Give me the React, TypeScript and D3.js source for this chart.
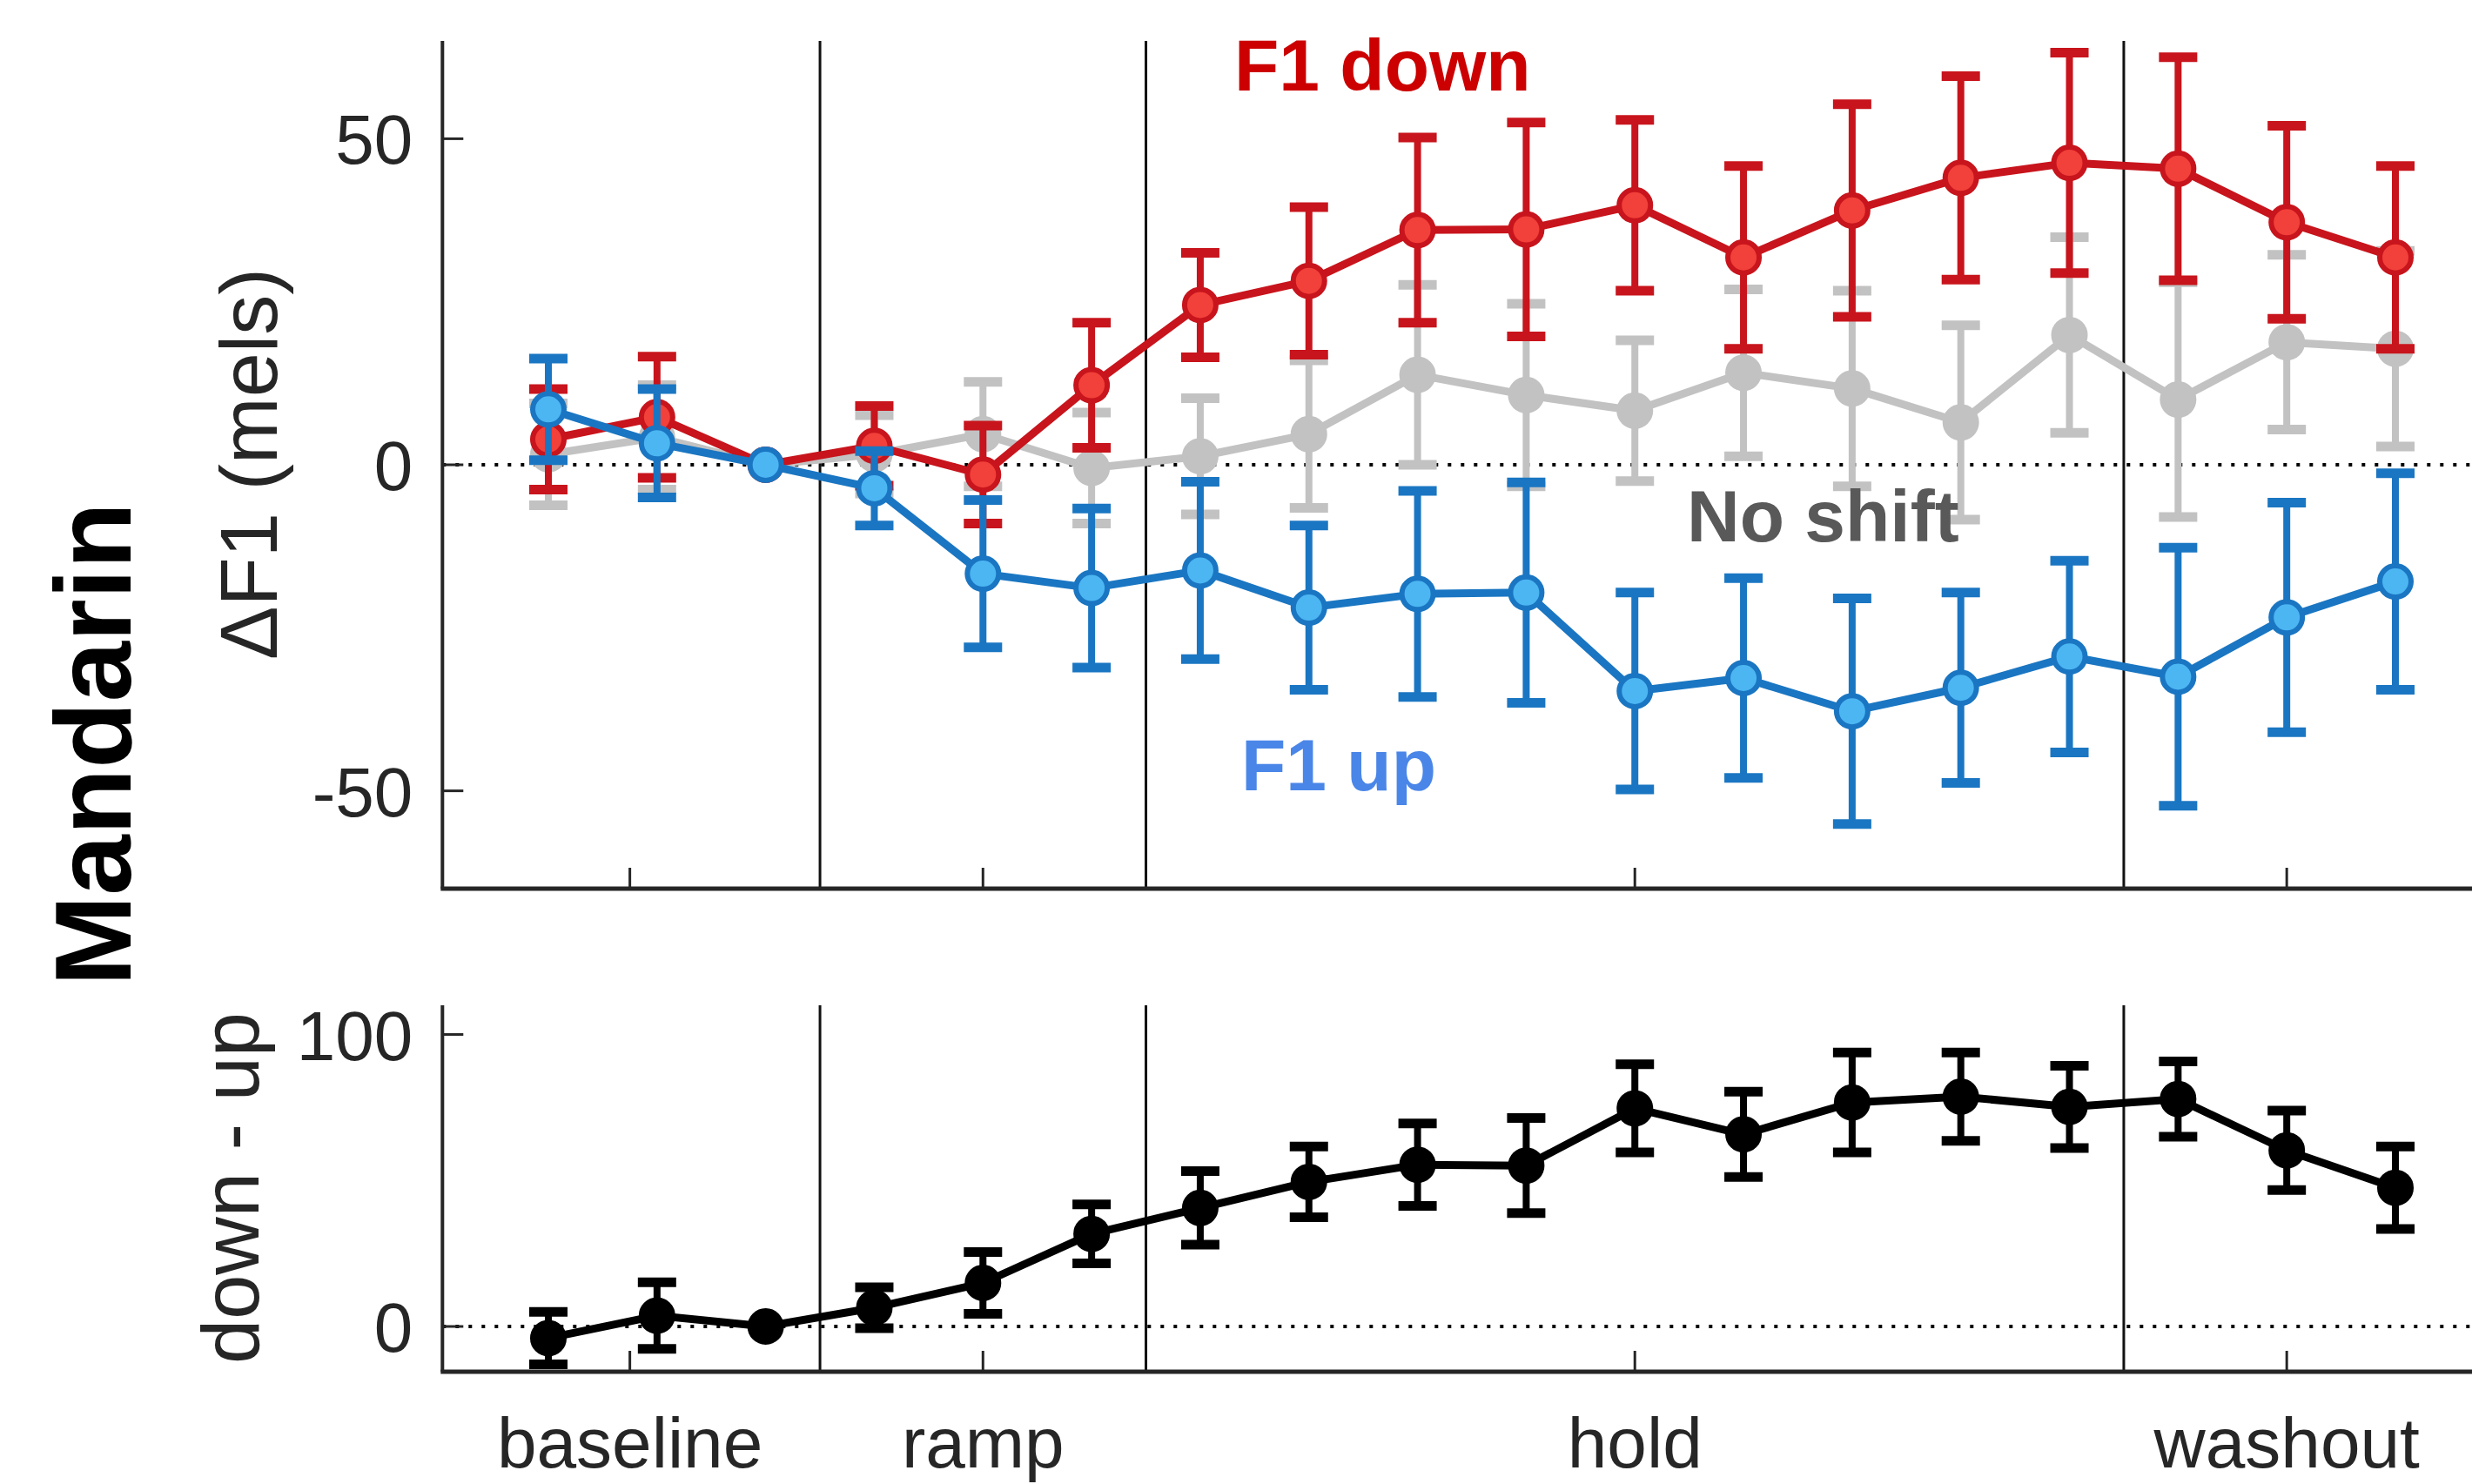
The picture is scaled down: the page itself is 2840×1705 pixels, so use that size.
import React from 'react'
import * as d3 from 'd3'

// trial index (x), 18 trials
const trials = [1, 2, 3, 4, 5, 6, 7, 8, 9, 10, 11, 12, 13, 14, 15, 16, 17, 18]

// F1 down (red)
const downMean = [3.9, 7.3, 0, 2.9, -1.5, 12.2, 24.5, 28.2, 36.0, 36.1, 39.8, 31.8, 39.0, 44.0, 46.3, 45.4, 37.2, 31.8]
const downErr = [7.7, 9.3, 0, 6.1, 7.5, 9.6, 8.0, 11.3, 14.2, 16.4, 13.1, 14.0, 16.3, 15.6, 16.9, 17.1, 14.8, 14.0]
// F1 up (blue)
const upMean = [8.5, 3.3, 0, -3.6, -16.7, -18.9, -16.2, -21.9, -19.8, -19.6, -34.7, -32.7, -37.8, -34.2, -29.4, -32.5, -23.4, -17.9]
const upErr = [7.8, 8.3, 0, 5.7, 11.3, 12.2, 13.6, 12.6, 15.8, 16.9, 15.1, 15.3, 17.3, 14.6, 14.7, 19.8, 17.6, 16.6]
// no shift (gray)
const noneMean = [1.6, 4.2, 0, 1.6, 4.7, -0.5, 1.3, 4.7, 13.8, 10.7, 8.3, 14.1, 11.7, 6.5, 19.9, 10.0, 18.8, 17.8]
const noneErr = [7.8, 8.0, 0, 6.0, 8.0, 8.5, 8.9, 11.3, 13.8, 14.0, 10.8, 12.8, 15.0, 14.9, 15.0, 18.0, 13.4, 15.0]
// down - up (black)
const diffMean = [-4.0, 3.7, 0, 6.4, 14.9, 31.7, 40.6, 49.5, 55.4, 55.1, 74.7, 65.8, 76.7, 78.7, 75.2, 77.9, 60.3, 47.5]
const diffErr = [9.0, 11.4, 0, 7.0, 10.6, 10.1, 12.6, 12.1, 14.1, 16.3, 15.1, 14.6, 17.1, 15.1, 14.1, 12.9, 13.6, 14.1]

const phaseBounds = [3.5, 6.5, 15.5]
const phaseTicks = [1.75, 5, 11, 17]
const phaseLabels = ['baseline', 'ramp', 'hold', 'washout']
const topTicks = [50, 0, -50]
const botTicks = [100, 0]

const W = 2840
const H = 1705
const font = 'Liberation Sans, Arial, Helvetica, sans-serif'
const axisColor = '#262626'

const x = d3.scaleLinear().domain([1, 18]).range([630, 2752])
const xMin = 0.025
const xMax = 19.5
const yTop = d3.scaleLinear().domain([-65, 65]).range([1021, 47])
const yBot = d3.scaleLinear().domain([-15.5, 110]).range([1576, 1155])

interface ISeries {
  mean: number[]
  err: number[]
  line: string
  fill: string
  edge: string
}

const Series = ({ s, y }: { s: ISeries; y: d3.ScaleLinear<number, number> }) => {
  const path = d3
    .line<number>()
    .x((d, i) => x(trials[i]))
    .y((d) => y(d))(s.mean)
  const cap = 22
  return (
    <g>
      {s.mean.map((m, i) => {
        if (!s.err[i]) return null
        const cx = x(trials[i])
        const y1 = y(m + s.err[i])
        const y0 = y(m - s.err[i])
        return (
          <g key={i} stroke={s.line} strokeWidth={8}>
            <line x1={cx} x2={cx} y1={y1} y2={y0} />
            <line x1={cx - cap} x2={cx + cap} y1={y1} y2={y1} strokeWidth={11} />
            <line x1={cx - cap} x2={cx + cap} y1={y0} y2={y0} strokeWidth={11} />
          </g>
        )
      })}
      <path d={path || ''} fill="none" stroke={s.line} strokeWidth={9} strokeLinejoin="round" />
      {s.mean.map((m, i) => (
        <circle key={i} cx={x(trials[i])} cy={y(m)} r={18} fill={s.fill} stroke={s.edge} strokeWidth={6} />
      ))}
    </g>
  )
}

const Panel = ({ y, ticks }: { y: d3.ScaleLinear<number, number>; ticks: number[] }) => {
  const [yb, yt] = y.range()
  const x0 = x(xMin)
  return (
    <g>
      {/* dotted zero line */}
      <line x1={x0} x2={W} y1={y(0)} y2={y(0)} stroke="#000" strokeWidth={4} strokeDasharray="4 11" />
      {phaseBounds.map((b) => (
        <line key={b} x1={x(b)} x2={x(b)} y1={yt} y2={yb} stroke="#111" strokeWidth={3} />
      ))}
      {/* axes */}
      <line x1={x0} x2={x0} y1={yt} y2={yb} stroke={axisColor} strokeWidth={4} />
      <line x1={x0 - 2} x2={x(xMax)} y1={yb} y2={yb} stroke={axisColor} strokeWidth={5} />
      {ticks.map((t) => (
        <g key={t}>
          <line x1={x0} x2={x0 + 24} y1={y(t)} y2={y(t)} stroke={axisColor} strokeWidth={3} />
          <text x={x0 - 34} y={y(t) + 29} textAnchor="end" fontSize={80} fontFamily={font} fill={axisColor}>
            {t}
          </text>
        </g>
      ))}
      {phaseTicks.map((t) => (
        <line key={t} x1={x(t)} x2={x(t)} y1={yb} y2={yb - 24} stroke={axisColor} strokeWidth={3} />
      ))}
    </g>
  )
}

const App = () => {
  const gray: ISeries = { mean: noneMean, err: noneErr, line: '#c2c2c2', fill: '#c2c2c2', edge: '#c2c2c2' }
  const red: ISeries = { mean: downMean, err: downErr, line: '#c8141c', fill: '#f2403a', edge: '#c8141c' }
  const blue: ISeries = { mean: upMean, err: upErr, line: '#1a76c2', fill: '#4cb6f2', edge: '#1a76c2' }
  const black: ISeries = { mean: diffMean, err: diffErr, line: '#000', fill: '#000', edge: '#000' }

  return (
    <svg
      width={W}
      height={H}
      style={{ position: 'absolute', left: 0, top: 0, background: '#fff' }}
    >
      <rect width={W} height={H} fill="#fff" />
      <Panel y={yTop} ticks={topTicks} />
      <Series s={gray} y={yTop} />
      <Series s={red} y={yTop} />
      <Series s={blue} y={yTop} />

      <Panel y={yBot} ticks={botTicks} />
      <Series s={black} y={yBot} />

      {phaseTicks.map((t, i) => (
        <text key={t} x={x(t)} y={1686} textAnchor="middle" fontSize={82} fontFamily={font} fill={axisColor}>
          {phaseLabels[i]}
        </text>
      ))}

      <text transform="translate(318,533) rotate(-90)" textAnchor="middle" fontSize={92} fontFamily={font} fill={axisColor}>
        ΔF1 (mels)
      </text>
      <text transform="translate(297,1365) rotate(-90)" textAnchor="middle" fontSize={92} fontFamily={font} fill={axisColor}>
        down - up
      </text>
      <text transform="translate(150,855) rotate(-90)" textAnchor="middle" fontSize={125} fontWeight="bold" fontFamily={font} fill="#000">
        Mandarin
      </text>

      <text x={1418} y={104} fontSize={84} fontWeight="bold" fontFamily={font} fill="#cc0000">
        F1 down
      </text>
      <text x={1938} y={622} fontSize={84} fontWeight="bold" fontFamily={font} fill="#595959">
        No shift
      </text>
      <text x={1426} y={908} fontSize={84} fontWeight="bold" fontFamily={font} fill="#4a86e8">
        F1 up
      </text>
    </svg>
  )
}

export default App
